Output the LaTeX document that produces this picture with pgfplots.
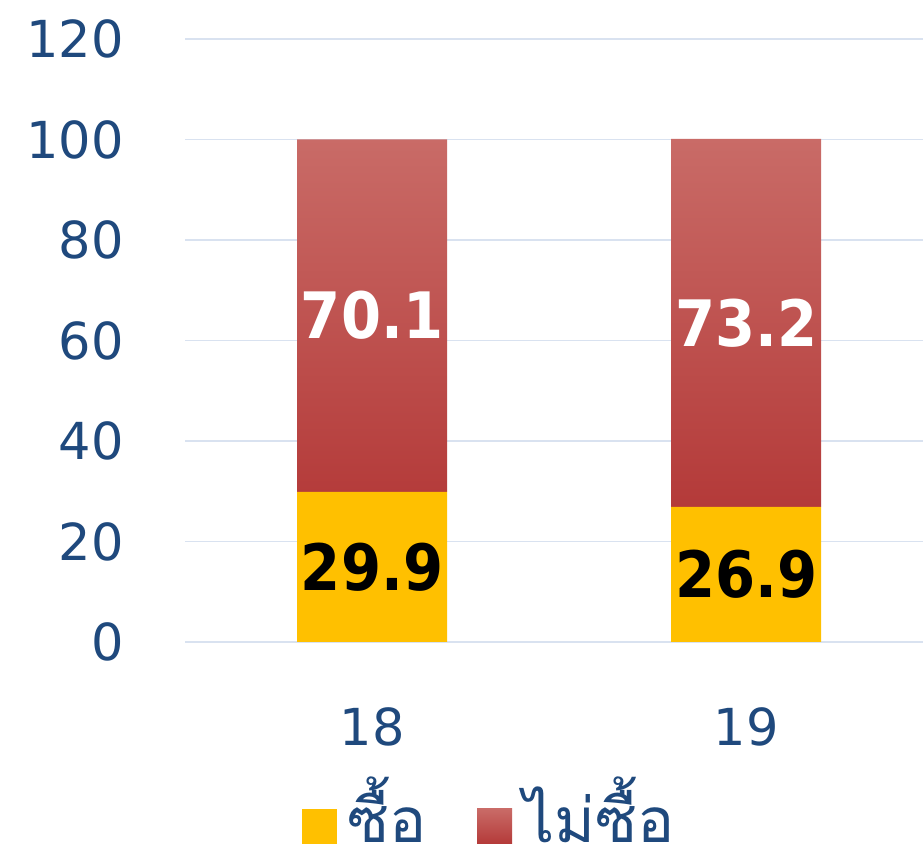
\documentclass[border=0pt]{standalone}
\usepackage{fontspec}
\usepackage{pgfplots}
\pgfplotsset{compat=1.18}
\setmainfont{DejaVu Sans}
\newfontfamily\thaifont[Script=Thai]{Loma}
\newfontfamily\lblfont{DejaVu Sans Condensed}
\definecolor{txt}{HTML}{1F497D}
\definecolor{grid}{HTML}{D9E2F0}
\definecolor{yel}{HTML}{FFC000}
\definecolor{redtop}{HTML}{C96B67}
\definecolor{redbot}{HTML}{B43A39}
\begin{document}
\begin{tikzpicture}
\useasboundingbox (0,0) rectangle (923bp,857bp);
\begin{axis}[
  at={(185bp,215bp)}, anchor=south west,
  scale only axis, width=738bp, height=603bp,
  ybar stacked, bar width=150bp,
  xmin=-0.5, xmax=1.473, ymin=0, ymax=120,
  ytick={0,20,...,120}, xtick={0,1}, xticklabels={18,19},
  axis line style={draw=none}, major tick length=0pt,
  ymajorgrids, grid style={color=grid, line width=1.5bp},
  tick label style={font=\fontsize{51bp}{60bp}\selectfont, text=txt},
  /pgf/number format/assume math mode=true,
  yticklabel style={xshift=-58bp},
  xticklabel style={yshift=-62bp},
  legend style={draw=none, fill=none, at={(0.154,-0.28)}, anchor=west,
    font=\fontsize{62bp}{70bp}\thaifont, text=txt, legend columns=2,
    /tikz/every odd column/.append style={column sep=9bp},
    /tikz/every even column/.append style={column sep=48bp}},
  legend image code/.code={\path[#1] (0bp,-33bp) rectangle (35bp,2bp);},
]
\addplot[draw=none, fill=yel] coordinates {(0,29.9) (1,26.9)};
\addlegendentry{ซื้อ}
\addplot[draw=none, top color=redtop, bottom color=redbot] coordinates {(0,70.1) (1,73.2)};
\addlegendentry{ไม่ซื้อ}
\end{axis}
\begin{axis}[
  at={(185bp,215bp)}, anchor=south west,
  scale only axis, width=738bp, height=603bp,
  xmin=-0.5, xmax=1.473, ymin=0, ymax=120,
  hide axis,
  nodes near coords, point meta=explicit symbolic,
  nodes near coords style={anchor=center, font=\fontsize{64bp}{70bp}\lblfont\bfseries},
]
\addplot[only marks, mark=none, nodes near coords style={text=black}] coordinates {(0,14.95)[29.9] (1,13.45)[26.9]};
\addplot[only marks, mark=none, nodes near coords style={text=white}] coordinates {(0,64.95)[70.1] (1,63.5)[73.2]};
\end{axis}
\end{tikzpicture}
\end{document}
